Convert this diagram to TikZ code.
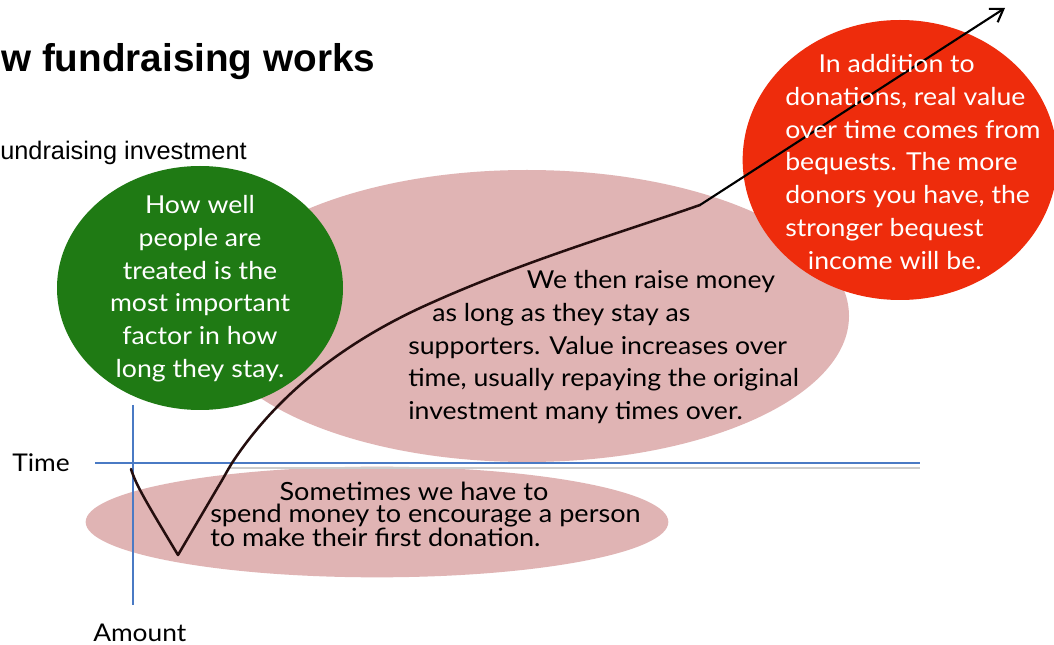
\documentclass[tikz,border=0pt]{standalone}
\usepackage{fontspec}
\setmainfont{Lato}[FakeStretch=1.08]
\newfontfamily\arialfont{Liberation Sans}
\usetikzlibrary{shapes.geometric,arrows.meta}
\definecolor{blushpink}{RGB}{224,180,180}
\definecolor{leafgreen}{RGB}{31,122,20}
\definecolor{flamered}{RGB}{238,44,12}
\definecolor{axisblue}{RGB}{74,122,196}
\definecolor{inkcurve}{RGB}{36,14,14}
\tikzset{
  bubble/.style={ellipse, draw=none, inner sep=0pt},
  axisline/.style={axisblue, line width=1.9pt},
  bodytext/.style={inner sep=0pt, font=\fontsize{18.5}{24.6}\selectfont},
  axislabel/.style={inner sep=0pt, font=\fontsize{18.3}{20}\selectfont},
}
\begin{document}
\begin{tikzpicture}[x=0.75pt, y=-0.75pt]
\useasboundingbox (0,0) rectangle (1054,645);
\fill[white] (0,0) rectangle (1054,645);

% headings
\node[anchor=base west, inner sep=0pt, font=\arialfont\bfseries\fontsize{29}{32}\selectfont] (title) at (1,72) {w fundraising works};
\node[anchor=base west, inner sep=0pt, font=\arialfont\fontsize{19}{22}\selectfont] (subtitle) at (0,160) {undraising investment};

% pink background bubbles
\node[bubble, fill=blushpink, minimum width=483pt, minimum height=219pt] (growth) at (527,316) {};
\node[bubble, fill=blushpink, minimum width=437pt, minimum height=83pt] (dip) at (377,522) {};

% axes
\draw[gray!40, line width=1.5pt] (230,467.5) -- (920,467.5);
\draw[axisline] (133,405) coordinate (vtop) -- (133,605) coordinate (vbot);
\draw[axisline] (95,463) coordinate (hleft) -- (920,463) coordinate (hright);

% coloured bubbles
\node[bubble, fill=leafgreen, minimum width=214.5pt, minimum height=183pt] (care) at (200,288) {};
\node[bubble, fill=flamered, minimum width=236pt, minimum height=210pt] (bequest) at (900,160) {};

% value curve: initial dip, then long growth up to the knee
\coordinate (start) at (131,469);
\coordinate (low) at (178,555);
\coordinate (cross) at (232,463);
\coordinate (mid) at (420,308);
\coordinate (knee) at (700,205);
\coordinate (tip) at (1005,8);
\draw[inkcurve, line width=1.9pt, line join=round, line cap=round]
  (start) .. controls (136,485) and (145,500) .. (low)
  -- (218,487) .. controls (223,479) and (227,471) .. (cross)
  .. controls (270,405) and (330,350) .. (mid)
  .. controls (520,262) and (620,233) .. (knee);
\draw[black, line width=1.6pt, -{Straight Barb[length=9pt, width=12pt, line width=1.6pt]}] (knee) -- (tip);

% texts
\node[bodytext, text=white, align=center, anchor=north] (caretext) at (200,195)
  {How well\\people are\\treated is the\\most important\\factor in how\\long they stay.};
\node[bodytext, align=left, anchor=north west] (growthtext) at (408,270)
  {\hspace*{89pt}We then raise money\\\hspace*{18pt}as long as they stay as\\supporters. Value increases over\\time, usually repaying the original\\investment many times over.};
\node[bodytext, text=white, align=left, anchor=north west] (bequesttext) at (785,54)
  {\hspace*{25pt}In addition to\\donations, real value\\over time comes from\\bequests. The more\\donors you have, the\\stronger bequest\\\hspace*{17pt}income will be.};
\node[inner sep=0pt, align=left, anchor=north west, font=\fontsize{18.8}{16.2}\selectfont] (diptext) at (210,482)
  {\hspace*{52pt}Sometimes we have to\\spend money to encourage a person\\to make their first donation.};

% axis labels
\node[axislabel, anchor=base west] (timelabel) at (12,471) {Time};
\node[axislabel, anchor=base west] (amountlabel) at (93,641) {Amount};
\end{tikzpicture}
\end{document}
